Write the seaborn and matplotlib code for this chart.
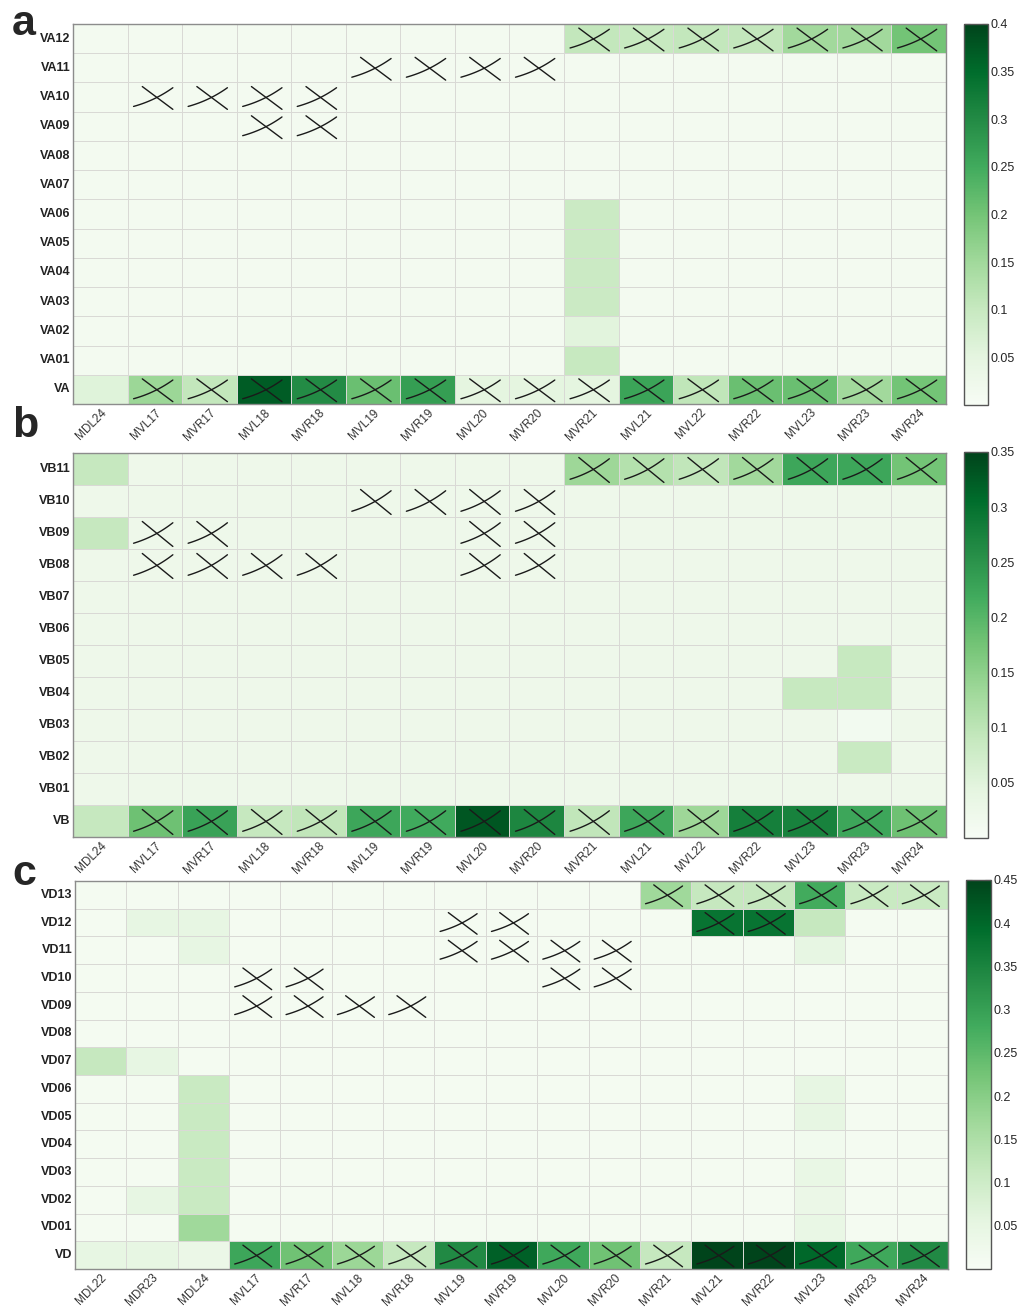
import numpy as np
import pandas as pd
import seaborn as sns
import matplotlib.pyplot as plt

sns.set_style("white")
plt.rcParams['font.family'] = ['Liberation Sans', 'DejaVu Sans']

# ---------------- Panel a ----------------
a_rows = ["VA12", "VA11", "VA10", "VA09", "VA08", "VA07", "VA06", "VA05",
          "VA04", "VA03", "VA02", "VA01", "VA"]
a_cols = ["MDL24", "MVL17", "MVR17", "MVL18", "MVR18", "MVL19", "MVR19", "MVL20",
          "MVR20", "MVR21", "MVL21", "MVL22", "MVR22", "MVL23", "MVR23", "MVR24"]
a_values = [
    [0.012, 0.012, 0.012, 0.012, 0.012, 0.012, 0.012, 0.012, 0.012, 0.105, 0.10, 0.105, 0.105, 0.15, 0.15, 0.20],
    [0.012, 0.012, 0.012, 0.012, 0.012, 0.012, 0.012, 0.012, 0.012, 0.012, 0.012, 0.012, 0.012, 0.012, 0.012, 0.012],
    [0.012, 0.012, 0.012, 0.012, 0.012, 0.012, 0.012, 0.012, 0.012, 0.012, 0.012, 0.012, 0.012, 0.012, 0.012, 0.012],
    [0.012, 0.012, 0.012, 0.012, 0.012, 0.012, 0.012, 0.012, 0.012, 0.012, 0.012, 0.012, 0.012, 0.012, 0.012, 0.012],
    [0.012, 0.012, 0.012, 0.012, 0.012, 0.012, 0.012, 0.012, 0.012, 0.012, 0.012, 0.012, 0.012, 0.012, 0.012, 0.012],
    [0.012, 0.012, 0.012, 0.012, 0.012, 0.012, 0.012, 0.012, 0.012, 0.012, 0.012, 0.012, 0.012, 0.012, 0.012, 0.012],
    [0.012, 0.012, 0.012, 0.012, 0.012, 0.012, 0.012, 0.012, 0.012, 0.095, 0.012, 0.012, 0.012, 0.012, 0.012, 0.012],
    [0.012, 0.012, 0.012, 0.012, 0.012, 0.012, 0.012, 0.012, 0.012, 0.095, 0.012, 0.012, 0.012, 0.012, 0.012, 0.012],
    [0.012, 0.012, 0.012, 0.012, 0.012, 0.012, 0.012, 0.012, 0.012, 0.095, 0.012, 0.012, 0.012, 0.012, 0.012, 0.012],
    [0.012, 0.012, 0.012, 0.012, 0.012, 0.012, 0.012, 0.012, 0.012, 0.095, 0.012, 0.012, 0.012, 0.012, 0.012, 0.012],
    [0.012, 0.012, 0.012, 0.012, 0.012, 0.012, 0.012, 0.012, 0.012, 0.055, 0.012, 0.012, 0.012, 0.012, 0.012, 0.012],
    [0.012, 0.012, 0.012, 0.012, 0.012, 0.012, 0.012, 0.012, 0.012, 0.10, 0.012, 0.012, 0.012, 0.012, 0.012, 0.012],
    [0.06, 0.155, 0.105, 0.37, 0.30, 0.21, 0.27, 0.05, 0.05, 0.05, 0.26, 0.11, 0.21, 0.21, 0.15, 0.20],
]
a_crosses = {
    "VA12": ["MVR21", "MVL21", "MVL22", "MVR22", "MVL23", "MVR23", "MVR24"],
    "VA11": ["MVL19", "MVR19", "MVL20", "MVR20"],
    "VA10": ["MVL17", "MVR17", "MVL18", "MVR18"],
    "VA09": ["MVL18", "MVR18"],
    "VA": ["MVL17", "MVR17", "MVL18", "MVR18", "MVL19", "MVR19", "MVL20", "MVR20",
           "MVR21", "MVL21", "MVL22", "MVR22", "MVL23", "MVR23", "MVR24"],
}
a_ticks = [0.05, 0.1, 0.15, 0.2, 0.25, 0.3, 0.35, 0.4]
a_vmax = 0.4

# ---------------- Panel b ----------------
b_rows = ["VB11", "VB10", "VB09", "VB08", "VB07", "VB06", "VB05", "VB04",
          "VB03", "VB02", "VB01", "VB"]
b_cols = ["MDL24", "MVL17", "MVR17", "MVL18", "MVR18", "MVL19", "MVR19", "MVL20",
          "MVR20", "MVR21", "MVL21", "MVL22", "MVR22", "MVL23", "MVR23", "MVR24"]
b_values = [
    [0.09, 0.022, 0.022, 0.022, 0.022, 0.022, 0.022, 0.022, 0.022, 0.135, 0.11, 0.095, 0.13, 0.225, 0.225, 0.175],
    [0.022, 0.022, 0.022, 0.022, 0.022, 0.022, 0.022, 0.022, 0.022, 0.022, 0.022, 0.022, 0.022, 0.022, 0.022, 0.022],
    [0.09, 0.022, 0.022, 0.022, 0.022, 0.022, 0.022, 0.022, 0.022, 0.022, 0.022, 0.022, 0.022, 0.022, 0.022, 0.022],
    [0.022, 0.022, 0.022, 0.022, 0.022, 0.022, 0.022, 0.022, 0.022, 0.022, 0.022, 0.022, 0.022, 0.022, 0.022, 0.022],
    [0.022, 0.022, 0.022, 0.022, 0.022, 0.022, 0.022, 0.022, 0.022, 0.022, 0.022, 0.022, 0.022, 0.022, 0.022, 0.022],
    [0.022, 0.022, 0.022, 0.022, 0.022, 0.022, 0.022, 0.022, 0.022, 0.022, 0.022, 0.022, 0.022, 0.022, 0.022, 0.022],
    [0.022, 0.022, 0.022, 0.022, 0.022, 0.022, 0.022, 0.022, 0.022, 0.022, 0.022, 0.022, 0.022, 0.022, 0.088, 0.022],
    [0.022, 0.022, 0.022, 0.022, 0.022, 0.022, 0.022, 0.022, 0.022, 0.022, 0.022, 0.022, 0.022, 0.088, 0.088, 0.022],
    [0.022, 0.022, 0.022, 0.022, 0.022, 0.022, 0.022, 0.022, 0.022, 0.022, 0.022, 0.022, 0.022, 0.022, 0.012, 0.022],
    [0.022, 0.022, 0.022, 0.022, 0.022, 0.022, 0.022, 0.022, 0.022, 0.022, 0.022, 0.022, 0.022, 0.022, 0.085, 0.022],
    [0.022, 0.022, 0.022, 0.022, 0.022, 0.022, 0.022, 0.022, 0.022, 0.022, 0.022, 0.022, 0.022, 0.022, 0.022, 0.022],
    [0.09, 0.18, 0.23, 0.09, 0.095, 0.225, 0.22, 0.33, 0.27, 0.095, 0.225, 0.135, 0.28, 0.275, 0.225, 0.18],
]
b_crosses = {
    "VB11": ["MVR21", "MVL21", "MVL22", "MVR22", "MVL23", "MVR23", "MVR24"],
    "VB10": ["MVL19", "MVR19", "MVL20", "MVR20"],
    "VB09": ["MVL17", "MVR17", "MVL20", "MVR20"],
    "VB08": ["MVL17", "MVR17", "MVL18", "MVR18", "MVL20", "MVR20"],
    "VB": ["MVL17", "MVR17", "MVL18", "MVR18", "MVL19", "MVR19", "MVL20", "MVR20",
           "MVR21", "MVL21", "MVL22", "MVR22", "MVL23", "MVR23", "MVR24"],
}
b_ticks = [0.05, 0.1, 0.15, 0.2, 0.25, 0.3, 0.35]
b_vmax = 0.35

# ---------------- Panel c ----------------
c_rows = ["VD13", "VD12", "VD11", "VD10", "VD09", "VD08", "VD07", "VD06",
          "VD05", "VD04", "VD03", "VD02", "VD01", "VD"]
c_cols = ["MDL22", "MDR23", "MDL24", "MVL17", "MVR17", "MVL18", "MVR18", "MVL19",
          "MVR19", "MVL20", "MVR20", "MVR21", "MVL21", "MVR22", "MVL23", "MVR23", "MVR24"]
c_values = [
    [0.012, 0.012, 0.012, 0.012, 0.012, 0.012, 0.012, 0.012, 0.012, 0.012, 0.012, 0.17, 0.115, 0.115, 0.28, 0.11, 0.11],
    [0.012, 0.05, 0.05, 0.012, 0.012, 0.012, 0.012, 0.012, 0.012, 0.012, 0.012, 0.012, 0.38, 0.38, 0.115, 0.012, 0.012],
    [0.012, 0.012, 0.05, 0.012, 0.012, 0.012, 0.012, 0.012, 0.012, 0.012, 0.012, 0.012, 0.012, 0.012, 0.05, 0.012, 0.012],
    [0.012, 0.012, 0.012, 0.012, 0.012, 0.012, 0.012, 0.012, 0.012, 0.012, 0.012, 0.012, 0.012, 0.012, 0.012, 0.012, 0.012],
    [0.012, 0.012, 0.012, 0.012, 0.012, 0.012, 0.012, 0.012, 0.012, 0.012, 0.012, 0.012, 0.012, 0.012, 0.012, 0.012, 0.012],
    [0.012, 0.012, 0.012, 0.012, 0.012, 0.012, 0.012, 0.012, 0.012, 0.012, 0.012, 0.012, 0.012, 0.012, 0.012, 0.012, 0.012],
    [0.115, 0.05, 0.012, 0.012, 0.012, 0.012, 0.012, 0.012, 0.012, 0.012, 0.012, 0.012, 0.012, 0.012, 0.012, 0.012, 0.012],
    [0.012, 0.012, 0.11, 0.012, 0.012, 0.012, 0.012, 0.012, 0.012, 0.012, 0.012, 0.012, 0.012, 0.012, 0.05, 0.012, 0.012],
    [0.012, 0.012, 0.11, 0.012, 0.012, 0.012, 0.012, 0.012, 0.012, 0.012, 0.012, 0.012, 0.012, 0.012, 0.05, 0.012, 0.012],
    [0.012, 0.012, 0.11, 0.012, 0.012, 0.012, 0.012, 0.012, 0.012, 0.012, 0.012, 0.012, 0.012, 0.012, 0.02, 0.012, 0.012],
    [0.012, 0.012, 0.11, 0.012, 0.012, 0.012, 0.012, 0.012, 0.012, 0.012, 0.012, 0.012, 0.012, 0.012, 0.045, 0.012, 0.012],
    [0.012, 0.05, 0.11, 0.012, 0.012, 0.012, 0.012, 0.012, 0.012, 0.012, 0.012, 0.012, 0.012, 0.012, 0.04, 0.012, 0.012],
    [0.012, 0.012, 0.17, 0.012, 0.012, 0.012, 0.012, 0.012, 0.012, 0.012, 0.012, 0.012, 0.012, 0.012, 0.045, 0.012, 0.012],
    [0.05, 0.05, 0.04, 0.29, 0.23, 0.175, 0.115, 0.34, 0.41, 0.285, 0.23, 0.115, 0.45, 0.45, 0.40, 0.285, 0.34],
]
c_crosses = {
    "VD13": ["MVR21", "MVL21", "MVR22", "MVL23", "MVR23", "MVR24"],
    "VD12": ["MVL19", "MVR19", "MVL21", "MVR22"],
    "VD11": ["MVL19", "MVR19", "MVL20", "MVR20"],
    "VD10": ["MVL17", "MVR17", "MVL20", "MVR20"],
    "VD09": ["MVL17", "MVR17", "MVL18", "MVR18"],
    "VD": ["MVL17", "MVR17", "MVL18", "MVR18", "MVL19", "MVR19", "MVL20", "MVR20",
           "MVR21", "MVL21", "MVR22", "MVL23", "MVR23", "MVR24"],
}
c_ticks = [0.05, 0.1, 0.15, 0.2, 0.25, 0.3, 0.35, 0.4, 0.45]
c_vmax = 0.45

W, H = 1029, 1308
fig = plt.figure(figsize=(W / 100, H / 100), dpi=100)


def rect(x0, y0, x1, y1):
    return [x0 / W, 1 - y1 / H, (x1 - x0) / W, (y1 - y0) / H]


def draw_cross(ax, cx, cy):
    # rising, gently curved stroke (flatter at lower-left)
    t = np.linspace(0, 1, 30)
    p0 = np.array([cx - 0.39, cy + 0.32])
    p1 = np.array([cx - 0.0, cy + 0.12])
    p2 = np.array([cx + 0.33, cy - 0.32])
    pts = ((1 - t) ** 2)[:, None] * p0 + (2 * (1 - t) * t)[:, None] * p1 + (t ** 2)[:, None] * p2
    ax.plot(pts[:, 0], pts[:, 1], color='#1a1a1a', lw=1.0, solid_capstyle='round')
    # descending stroke
    ax.plot([cx - 0.23, cx + 0.33], [cy - 0.36, cy + 0.42], color='#1a1a1a', lw=1.0,
            solid_capstyle='round')


def panel(ax_r, cax_r, rows, cols, vals, crosses, vmax, ticks, letter, letter_y):
    ax = fig.add_axes(rect(*ax_r))
    cax = fig.add_axes(rect(*cax_r))
    df = pd.DataFrame(vals, index=rows, columns=cols)
    sns.heatmap(df, ax=ax, cbar_ax=cax, cmap='Greens', vmin=0, vmax=vmax,
                linewidths=0.6, linecolor='#d9d9d5', cbar_kws={'ticks': ticks})
    ax.tick_params(length=0, pad=2)
    ax.set_xticks(np.arange(len(cols)) + 0.5)
    ax.set_xticklabels(cols, rotation=45, ha='right', rotation_mode='anchor',
                       fontsize=8.5, color='#333333')
    ax.set_yticks(np.arange(len(rows)) + 0.5)
    ax.set_yticklabels(rows, rotation=0, fontsize=9, fontweight='bold', color='#222222')
    ax.set_xlabel('')
    ax.set_ylabel('')
    for s in ax.spines.values():
        s.set_visible(True)
        s.set_color('#8c8c8c')
        s.set_linewidth(1.0)
    for r, clist in crosses.items():
        ri = rows.index(r)
        for c in clist:
            ci = cols.index(c)
            draw_cross(ax, ci + 0.5, ri + 0.5)
    cb = ax.collections[0].colorbar
    cb.outline.set_edgecolor('#555555')
    cb.outline.set_linewidth(1.0)
    cax.tick_params(direction='in', left=True, right=True, length=4, width=0.8,
                    color='#444444', labelsize=9, pad=2)
    cb.set_ticklabels([f"{t:g}" for t in ticks])
    fig.text(12 / W, 1 - letter_y / H, letter, fontsize=31, fontweight='bold',
             va='baseline', ha='left')


panel((73, 24, 946, 404), (964, 24, 988, 405), a_rows, a_cols, a_values, a_crosses,
      a_vmax, a_ticks, 'a', 35)
panel((73, 453, 946, 837), (964, 452, 988, 838), b_rows, b_cols, b_values, b_crosses,
      b_vmax, b_ticks, 'b', 437)
panel((75, 881, 948, 1269), (966, 880, 991, 1269), c_rows, c_cols, c_values, c_crosses,
      c_vmax, c_ticks, 'c', 885)

fig.savefig('out.png', dpi=100)
